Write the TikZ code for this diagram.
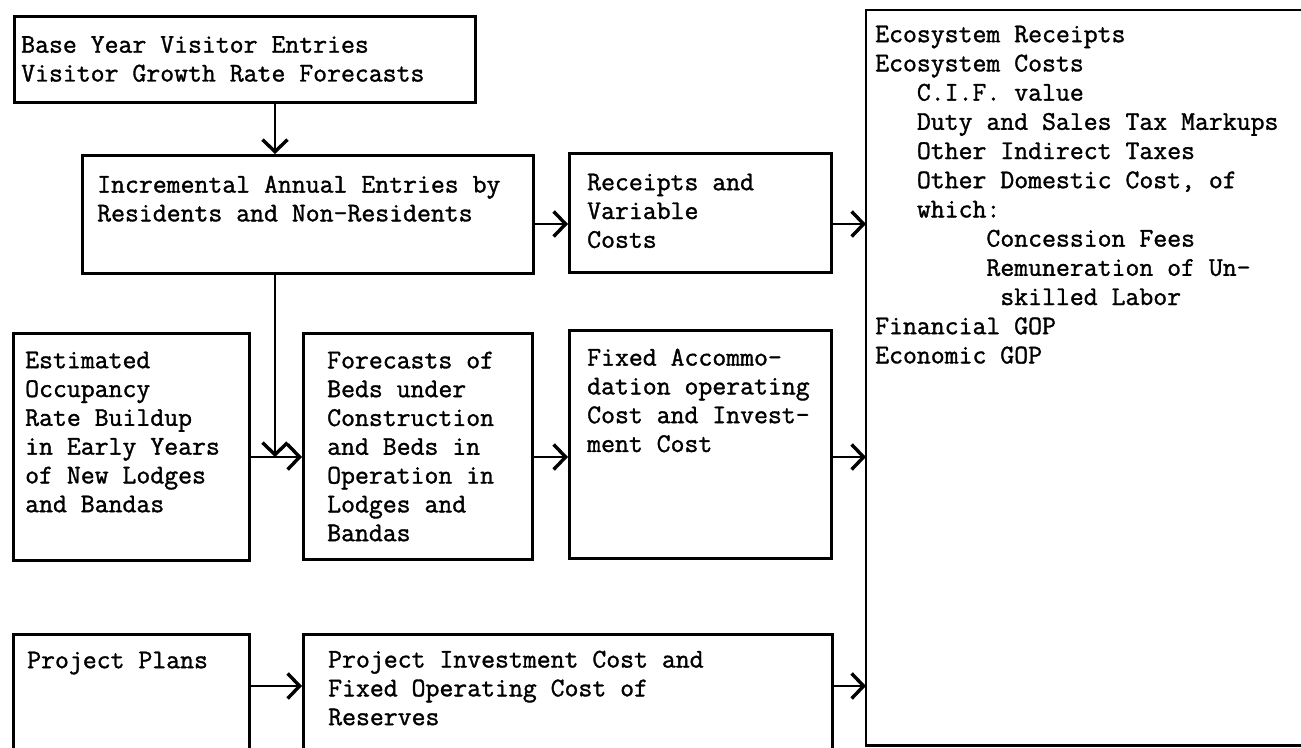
\documentclass[tikz,border=0pt]{standalone}
\usepackage{fontspec}
\setmonofont{Latin Modern Mono}[FakeBold=1.3]
\usetikzlibrary{arrows.meta}
\begin{document}
\begin{tikzpicture}[x=1pt,y=-1pt,
  box/.style={draw, line width=2.9pt, rectangle, anchor=north west, inner sep=0pt},
  openbox/.style={rectangle, anchor=north west, inner sep=0pt},
  edge/.style={line width=2.9pt},
  txt/.style={anchor=north west, inner sep=0pt, align=left, font=\fontsize{27}{28.8}\selectfont\ttfamily},
  txtr/.style={txt, font=\fontsize{27}{29.2}\selectfont\ttfamily},
  arr/.style={line width=2.9pt, -{Straight Barb[length=12pt,width=25pt,line width=3.4pt]}}]
\useasboundingbox (0,0) rectangle (1301,747);
\fill[white] (0,0) rectangle (1301,747);
\clip (0,0) rectangle (1301,747);
% boxes
\node[box, minimum width=461pt, minimum height=86pt] (top) at (13,15) {};
\node[box, minimum width=451pt, minimum height=118pt] (inc) at (81,154) {};
\node[box, minimum width=262pt, minimum height=119pt] (rec) at (568,152) {};
\node[box, minimum width=236pt, minimum height=227pt] (est) at (12,332) {};
\node[box, minimum width=229pt, minimum height=226pt] (fore) at (302,332) {};
\node[box, minimum width=262pt, minimum height=228pt] (fix) at (568,329) {};
\node[openbox, minimum width=520pt, minimum height=735pt] (right) at (866,10) {};
\draw[edge] (right.north east) -- (right.north west) -- (right.south west) -- (right.south east);
\node[box, minimum width=236pt, minimum height=140pt] (pp) at (12,633) {};
\node[box, minimum width=529pt, minimum height=140pt] (pi) at (302,633) {};
% texts
\node[txt] (toptxt) at (21,36) {Base Year Visitor Entries\\Visitor Growth Rate Forecasts};
\node[txt] (inctxt) at (97,175.5) {Incremental Annual Entries by\\Residents and Non-Residents};
\node[txt] (rectxt) at (587,173.5) {Receipts and\\Variable\\Costs};
\node[txt] (esttxt) at (25,351.5) {Estimated\\Occupancy\\Rate Buildup\\in Early Years\\of New Lodges\\and Bandas};
\node[txt] (foretxt) at (327,351.5) {Forecasts of\\Beds under\\Construction\\and Beds in\\Operation in\\Lodges and\\Bandas};
\node[txt] (fixtxt) at (587,348.5) {Fixed Accommo-\\dation operating\\Cost and Invest-\\ment Cost};
\node[txtr] (righttxt) at (875,25.5) {Ecosystem Receipts\\Ecosystem Costs\\
\hphantom{xxx}C.I.F. value\\
\hphantom{xxx}Duty and Sales Tax Markups\\
\hphantom{xxx}Other Indirect Taxes\\
\hphantom{xxx}Other Domestic Cost, of\\
\hphantom{xxx}which:\\
\hphantom{xxxxxxxx}Concession Fees\\
\hphantom{xxxxxxxx}Remuneration of Un-\\
\hphantom{xxxxxxxxx}skilled Labor\\
Financial GOP\\Economic GOP};
\node[txt] (pptxt) at (27,651.5) {Project Plans};
\node[txt] (pitxt) at (328,650.5) {Project Investment Cost and\\Fixed Operating Cost of\\Reserves};
% connectors
\coordinate (jx) at (275,457);
\coordinate (r1) at (0,224);
\coordinate (r3) at (0,686);
\draw[arr] (top.south -| jx) -- (inc.north -| jx);
\draw[arr] (inc.south -| jx) -- (jx);
\draw[arr] (est.east |- jx) -- (fore.west |- jx);
\draw[arr] (inc.east |- r1) -- (rec.west |- r1);
\draw[arr] (rec.east |- r1) -- (right.west |- r1);
\draw[arr] (fore.east |- jx) -- (fix.west |- jx);
\draw[arr] (fix.east |- jx) -- (right.west |- jx);
\draw[arr] (pp.east |- r3) -- (pi.west |- r3);
\draw[arr] (pi.east |- r3) -- (right.west |- r3);
\end{tikzpicture}
\end{document}
